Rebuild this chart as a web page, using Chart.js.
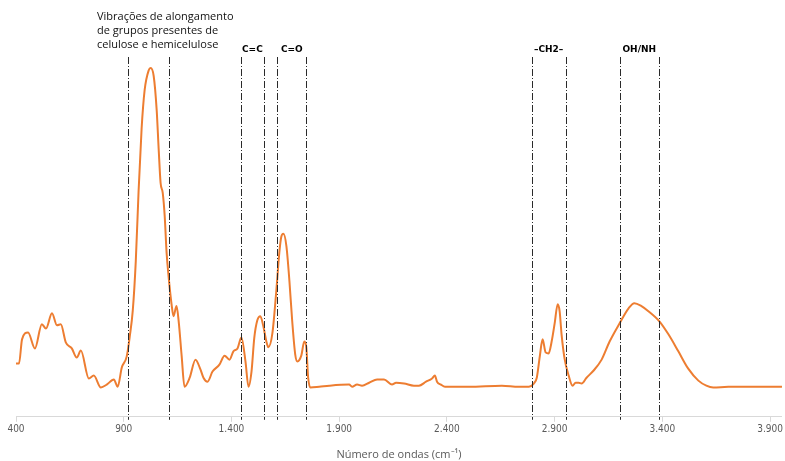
<!DOCTYPE html>
<html lang="pt">
<head>
<meta charset="UTF-8">
<title>Espectro FTIR</title>
<script src="https://cdn.jsdelivr.net/npm/chart.js"></script>
<style>
  body { margin: 0; padding: 0; background: #fff; }
  #wrap { width: 785px; height: 461px; position: relative; }
</style>
</head>
<body>
<div id="wrap"><canvas id="espectro"></canvas></div>
<script>
  const numeroOndas = [
    400, 414, 428, 456, 488, 520, 539, 567, 590, 608, 631, 659, 682, 701, 738, 761, 794, 821, 854, 872,
    891, 914, 928, 942, 956, 969, 983, 997, 1016, 1025, 1039, 1053, 1062, 1071, 1081, 1090, 1099, 1108, 1122, 1131,
    1145, 1155, 1169, 1182, 1206, 1233, 1256, 1270, 1289, 1312, 1344, 1368, 1391, 1409, 1428, 1446, 1465, 1479, 1493, 1506,
    1520, 1534, 1548, 1562, 1571, 1590, 1608, 1622, 1631, 1641, 1655, 1669, 1682, 1696, 1706, 1724, 1738, 1747, 1756, 1766,
    1807, 1854, 1946, 1960, 1983, 2006, 2039, 2076, 2108, 2145, 2164, 2201, 2247, 2270, 2303, 2331, 2344, 2354, 2372, 2391,
    2502, 2655, 2733, 2780, 2803, 2817, 2831, 2844, 2858, 2872, 2886, 2900, 2914, 2923, 2932, 2946, 2965, 2983, 2997, 3011,
    3025, 3048, 3081, 3118, 3155, 3201, 3243, 3270, 3303, 3335, 3386, 3428, 3474, 3520, 3567, 3604, 3636, 3706, 3798, 3955
  ];
  const intensidade = [
    0.147, 0.147, 0.214, 0.233, 0.189, 0.256, 0.244, 0.286, 0.253, 0.256, 0.206, 0.189, 0.164, 0.183, 0.106, 0.114, 0.081, 0.089, 0.103, 0.083,
    0.136, 0.167, 0.222, 0.294, 0.431, 0.625, 0.797, 0.903, 0.958, 0.964, 0.942, 0.847, 0.742, 0.647, 0.619, 0.556, 0.453, 0.389, 0.311, 0.278,
    0.306, 0.264, 0.167, 0.083, 0.108, 0.158, 0.131, 0.108, 0.097, 0.125, 0.144, 0.169, 0.158, 0.181, 0.189, 0.219, 0.153, 0.083, 0.125, 0.219,
    0.267, 0.278, 0.250, 0.208, 0.192, 0.231, 0.347, 0.453, 0.497, 0.506, 0.472, 0.375, 0.264, 0.172, 0.153, 0.169, 0.208, 0.194, 0.108, 0.081,
    0.083, 0.086, 0.089, 0.083, 0.089, 0.086, 0.094, 0.103, 0.103, 0.089, 0.094, 0.092, 0.086, 0.086, 0.097, 0.106, 0.114, 0.097, 0.089, 0.083,
    0.083, 0.086, 0.083, 0.083, 0.092, 0.108, 0.167, 0.214, 0.178, 0.175, 0.208, 0.258, 0.311, 0.292, 0.228, 0.161, 0.114, 0.086, 0.094, 0.094,
    0.092, 0.108, 0.128, 0.158, 0.208, 0.258, 0.300, 0.314, 0.306, 0.292, 0.264, 0.228, 0.181, 0.133, 0.100, 0.086, 0.081, 0.083, 0.083, 0.083
  ];

  const xTicks = [400, 900, 1400, 1900, 2400, 2900, 3400, 3900];
  const xTickLabels = ['400', '900', '1.400', '1.900', '2.400', '2.900', '3.400', '3.900'];

  // pares de linhas que delimitam cada banda
  const linhasBandas = [921, 1110, 1444, 1550, 1613, 1747, 2793, 2951, 3201, 3384];
  const rotulosBandas = ['', 'C=C', 'C=O', '\u2013CH2\u2013', 'OH/NH'];
  const textoVibracoes = ['Vibrações de alongamento', 'de grupos presentes de', 'celulose e hemicelulose'];

  const bandasPlugin = {
    id: 'bandas',
    afterDatasetsDraw(chart) {
      const { ctx, chartArea, scales: { x } } = chart;
      ctx.save();
      ctx.strokeStyle = '#2a2a2a';
      ctx.lineWidth = 1;
      ctx.setLineDash([7, 2, 1, 2]);
      linhasBandas.forEach(v => {
        const px = Math.round(x.getPixelForValue(v)) + 0.5;
        ctx.beginPath();
        ctx.moveTo(px, chartArea.top + 2);
        ctx.lineTo(px, chartArea.bottom + 3);
        ctx.stroke();
      });
      ctx.setLineDash([]);

      ctx.fillStyle = '#000';
      ctx.textAlign = 'center';
      ctx.textBaseline = 'middle';
      ctx.font = 'bold 9px "DejaVu Sans"';
      rotulosBandas.forEach((t, i) => {
        if (!t) return;
        const c = (linhasBandas[2 * i] + linhasBandas[2 * i + 1]) / 2;
        ctx.fillText(t, x.getPixelForValue(c), chartArea.top - 5);
      });

      // texto do bloco celulose/hemicelulose
      ctx.textAlign = 'left';
      ctx.font = '11px "Open Sans"';
      ctx.fillStyle = '#111';
      textoVibracoes.forEach((t, i) => {
        ctx.fillText(t, 97, 17 + i * 14);
      });
      ctx.restore();
    }
  };

  const chart = new Chart(document.getElementById('espectro'), {
    type: 'line',
    data: {
      labels: numeroOndas,
      datasets: [{
        data: numeroOndas.map((w, i) => ({ x: w, y: intensidade[i] })),
        borderColor: '#ED7D31',
        borderWidth: 2,
        pointRadius: 0,
        cubicInterpolationMode: 'monotone',
        fill: false
      }]
    },
    options: {
      responsive: true,
      maintainAspectRatio: false,
      animation: false,
      layout: { padding: { left: 16, right: 0, top: 55, bottom: 0 } },
      plugins: { legend: { display: false }, tooltip: { enabled: false } },
      scales: {
        x: {
          type: 'linear',
          min: 400,
          max: 3955,
          afterBuildTicks(axis) { axis.ticks = xTicks.map(v => ({ value: v })); },
          grid: { drawOnChartArea: false, tickLength: 5, color: '#d9d9d9' },
          border: { color: '#d9d9d9' },
          ticks: {
            padding: 2,
            maxRotation: 0,
            autoSkip: false,
            color: '#595959',
            font: { family: '"Liberation Sans Narrow", "DejaVu Sans Condensed", sans-serif', size: 10 },
            callback: (v) => xTickLabels[xTicks.indexOf(v)]
          },
          title: {
            display: true,
            text: 'Número de ondas (cm\u207B\u00B9)',
            color: '#595959',
            font: { family: '"Open Sans"', size: 11 },
            padding: { top: 10, bottom: 0 }
          }
        },
        y: { display: false, min: 0, max: 1 }
      }
    },
    plugins: [bandasPlugin]
  });
</script>
</body>
</html>
